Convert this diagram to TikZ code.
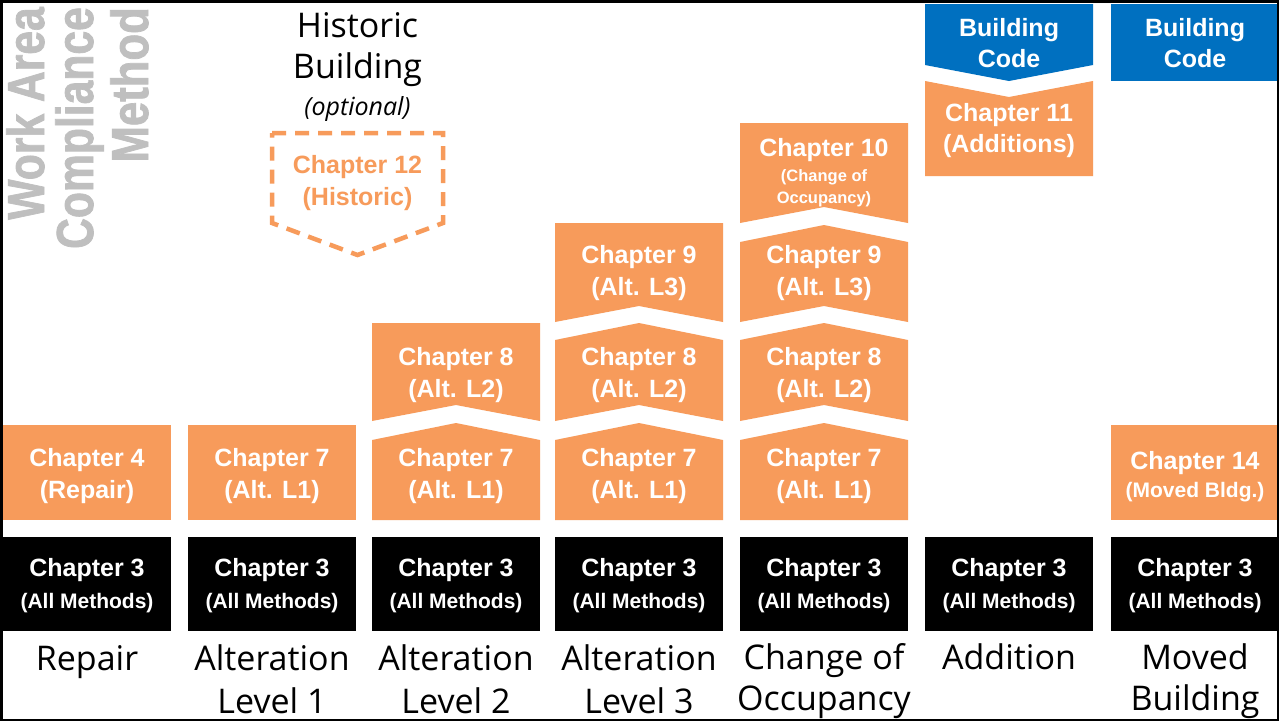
\documentclass[tikz,border=0pt]{standalone}
\usepackage{fontspec}
\setmainfont{Liberation Sans}
\newfontfamily\labfont{Open Sans}
\newfontfamily\vtfont[FakeBold=1.6]{Liberation Sans Bold}
\definecolor{org}{HTML}{F79B5B}
\definecolor{blu}{HTML}{0070C0}
\definecolor{gry}{HTML}{BFBFBF}
\newcommand\chevfill[7]{%
  \fill[#1] (#2,#4) -- ({(#2+#3)/2},#5) -- (#3,#4) -- (#3,#6) -- ({(#2+#3)/2},#7) -- (#2,#6) -- cycle;}
\begin{document}
\begin{tikzpicture}[x=1pt,y=-1pt,
  tt/.style={text=white, font=\bfseries\fontsize{25}{30}\selectfont, inner sep=0pt, text height=18pt, text depth=0pt},
  sm/.style={text=white, font=\bfseries\fontsize{21}{25}\selectfont, inner sep=0pt, text height=15pt, text depth=0pt},
  xs/.style={text=white, font=\bfseries\fontsize{16.5}{20}\selectfont, inner sep=0pt, text height=11.8pt, text depth=0pt},
  lab/.style={text=black, font=\labfont\fontsize{34}{40}\selectfont, inner sep=0pt, text height=24.3pt, text depth=0pt},
  hist/.style={text=black, font=\labfont\fontsize{34}{40}\selectfont, inner sep=0pt, text height=24.3pt, text depth=0pt},
  vt/.style={text=gry, font=\vtfont\fontsize{52}{52}\selectfont, inner sep=0pt, rotate=90, anchor=base east},
  dashbox/.style={draw=org, line width=4.5pt, dash pattern=on 14pt off 9pt, line join=miter}]
\useasboundingbox (0,0) rectangle (1279,721);
\fill[white] (0,0) rectangle (1279,721);

% vertical title
\node[vt] (wa) at (44,7) {\scalebox{0.82}[1]{Work Area}};
\node[vt] (cp) at (93,7) {\scalebox{0.82}[1]{Compliance}};
\node[vt] (me) at (148,7) {\scalebox{0.84}[1]{Method}};

% black base boxes
\foreach \L/\R in {3/171,188/356,372/540,555/723,740/908,925/1093,1111/1279}
  \fill[black] (\L,537) rectangle (\R,631);

% column 1
\fill[org] (3,425) rectangle (171,520);
% column 2
\fill[org] (188,425) rectangle (356,520);
% column 3
\chevfill{org}{372}{540}{323}{323}{421}{405}
\chevfill{org}{372}{540}{440}{423}{520}{520}
% column 4
\chevfill{org}{555}{723}{223}{223}{322}{306}
\chevfill{org}{555}{723}{340}{323}{421}{405}
\chevfill{org}{555}{723}{440}{423}{520}{520}
% column 5
\chevfill{org}{740}{908}{123}{123}{223}{207}
\chevfill{org}{740}{908}{242}{225}{322}{306}
\chevfill{org}{740}{908}{340}{323}{421}{405}
\chevfill{org}{740}{908}{440}{423}{520}{520}
% column 6
\chevfill{blu}{925}{1093}{4}{4}{65}{81}
\chevfill{org}{925}{1093}{81}{97}{176}{176}
% column 7
\fill[blu] (1111,4) rectangle (1279,81);
\fill[org] (1111,425) rectangle (1279,520);

% historic dashed box
\draw[dashbox] (272,133) -- (443,133) -- (443,223) -- (357.5,255) -- (272,223) -- cycle;
\node[hist] (h1) at (357.5,25) {Historic};
\node[hist] (h2) at (357.5,66) {Building};
\node[text=black, font=\labfont\itshape\fontsize{25}{30}\selectfont, inner sep=0pt, text height=18pt, text depth=0pt] (h3) at (357.5,106) {(optional)};
\node[tt, text=org] (c12a) at (357.5,164) {Chapter 12};
\node[tt, text=org] (c12b) at (357.5,196) {(Historic)};

% chapter 3 texts
\foreach \c/\n in {87/1,272/2,456/3,639/4,824/5,1009/6,1195/7}{
  \node[tt] (k3a\n) at (\c,567.5) {Chapter 3};
  \node[sm] (k3b\n) at (\c,600.5) {(All Methods)};
}

% row 1 orange texts
\node[tt] (c4a) at (87,457) {Chapter 4};
\node[tt] (c4b) at (87,489) {(Repair)};
\foreach \c/\n in {272/2,456/3,639/4,824/5}{
  \node[tt] (c7a\n) at (\c,457) {Chapter 7};
  \node[tt] (c7b\n) at (\c,489) {(Alt. L1)};
}
\foreach \c/\n in {456/3,639/4,824/5}{
  \node[tt] (c8a\n) at (\c,356) {Chapter 8};
  \node[tt] (c8b\n) at (\c,388) {(Alt. L2)};
}
\foreach \c/\n in {639/4,824/5}{
  \node[tt] (c9a\n) at (\c,254) {Chapter 9};
  \node[tt] (c9b\n) at (\c,286) {(Alt. L3)};
}
\node[tt] (c10a) at (824,147) {Chapter 10};
\node[xs] (c10b) at (824,176) {(Change of};
\node[xs] (c10c) at (824,198) {Occupancy)};
\node[tt] (c11a) at (1009,112) {Chapter 11};
\node[tt] (c11b) at (1009,143) {(Additions)};
\node[tt] (b6a) at (1009,27) {Building};
\node[tt] (b6b) at (1009,58) {Code};
\node[tt] (b7a) at (1195,27) {Building};
\node[tt] (b7b) at (1195,58) {Code};
\node[tt] (c14a) at (1195,460) {Chapter 14};
\node[sm] (c14b) at (1195,489.5) {(Moved Bldg.)};

% bottom labels
\node[lab] (l1) at (87,658) {Repair};
\node[lab] (l2a) at (272,658) {Alteration};
\node[lab] (l2b) at (272,701) {Level 1};
\node[lab] (l3a) at (456,658) {Alteration};
\node[lab] (l3b) at (456,701) {Level 2};
\node[lab] (l4a) at (639,658) {Alteration};
\node[lab] (l4b) at (639,701) {Level 3};
\node[lab] (l5a) at (824,657) {Change of};
\node[lab] (l5b) at (824,698) {Occupancy};
\node[lab] (l6) at (1009,657) {Addition};
\node[lab] (l7a) at (1195,657) {Moved};
\node[lab] (l7b) at (1195,698) {Building};

% frame
\draw[black, line width=2.5pt] (1.25,1.25) rectangle (1277.75,719.75);
\end{tikzpicture}
\end{document}
